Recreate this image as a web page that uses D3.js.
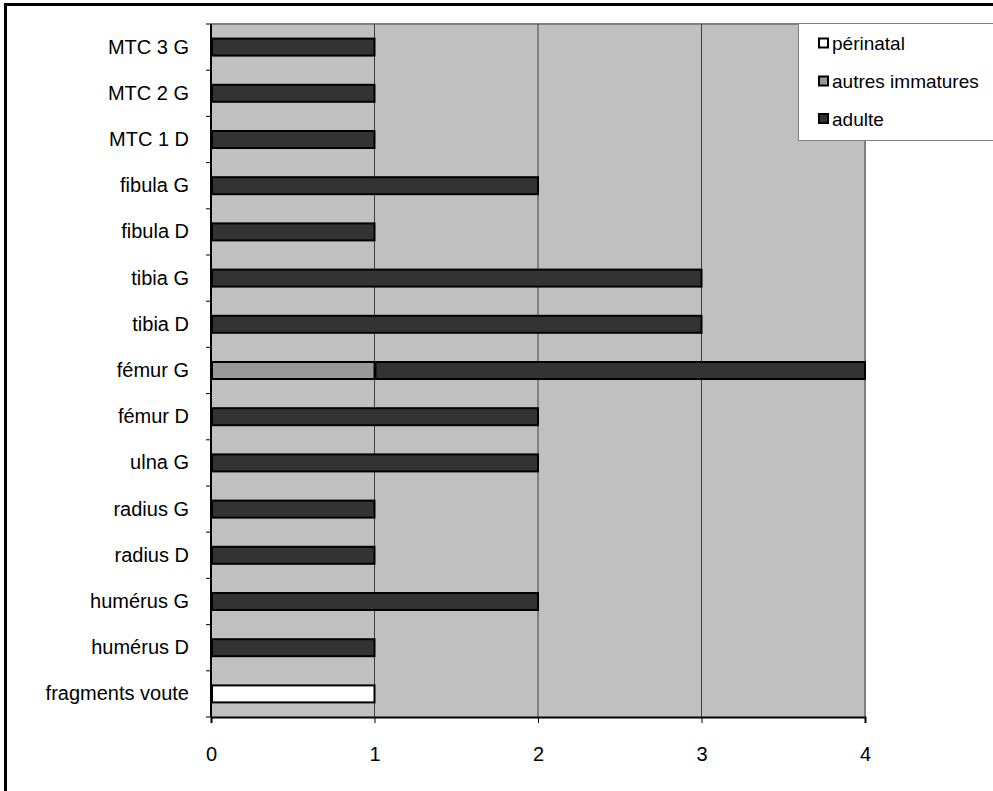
<!DOCTYPE html>
<html><head><meta charset="utf-8">
<script src="https://cdn.jsdelivr.net/npm/d3@7"></script>
<style>body{margin:0;background:#fff}svg{display:block;font-family:Arial,"Liberation Sans",sans-serif}</style>
</head><body><svg id="c" width="993" height="791"></svg>
<script>
const categories = ["fragments voute","humérus D","humérus G","radius D","radius G","ulna G","fémur D","fémur G","tibia D","tibia G","fibula D","fibula G","MTC 1 D","MTC 2 G","MTC 3 G"];
const perinatal = [1,0,0,0,0,0,0,0,0,0,0,0,0,0,0];
const autresImmatures = [0,0,0,0,0,0,0,1,0,0,0,0,0,0,0];
const adulte = [0,1,2,1,1,2,2,3,3,3,1,2,1,1,1];
const seriesNames = ["périnatal","autres immatures","adulte"];
const seriesColors = ["#ffffff","#999999","#333333"];
const xTicks = [0,1,2,3,4];

const FONT = "Arial,'Liberation Sans',sans-serif";
const svg = d3.select("#c");
const L = 211, R = 865, T = 24, B = 717;
// outer frame
svg.append("rect").attr("x",5.5).attr("y",4.5).attr("width",1100).attr("height",1000)
  .attr("fill","#fff").attr("stroke","#000").attr("stroke-width",3);

const x = d3.scaleLinear().domain([0,4]).range([L,R]);
const y = d3.scaleBand().domain(categories.slice().reverse()).range([T,B]);

svg.append("rect").attr("x",L).attr("y",T).attr("width",R-L).attr("height",B-T).attr("fill","#c0c0c0");
// top and right border
svg.append("line").attr("x1",L).attr("x2",R+1).attr("y1",T).attr("y2",T).attr("stroke","#808080").attr("stroke-width",2);
svg.append("line").attr("x1",R).attr("x2",R).attr("y1",T).attr("y2",B).attr("stroke","#808080").attr("stroke-width",2);
// gridlines
svg.selectAll(".grid").data(xTicks.filter(d=>d>0&&d<4)).enter().append("line")
  .attr("x1",d=>x(d)).attr("x2",d=>x(d)).attr("y1",T).attr("y2",B)
  .attr("stroke","#404040").attr("stroke-width",1);

const data = categories.map((c,i)=>({c, vals:[perinatal[i],autresImmatures[i],adulte[i]]}));
const stacked = d3.stack().keys([0,1,2]).value((d,k)=>d.vals[k])(data);
const bh = 17;
stacked.forEach((layer,k)=>{
  svg.selectAll(".bar"+k).data(layer.filter(d=>d[1]-d[0]>0)).enter().append("rect")
    .attr("x",d=>x(d[0])+1).attr("width",d=>x(d[1])-x(d[0])-1)
    .attr("y",d=>y(d.data.c)+y.bandwidth()/2-bh/2).attr("height",bh)
    .attr("fill",seriesColors[k]).attr("stroke","#000").attr("stroke-width",2);
});

// y axis
const yAxis = svg.append("g").attr("transform",`translate(${L},0)`)
  .call(d3.axisLeft(y).tickSize(0).tickPadding(22));
yAxis.select(".domain").remove();
yAxis.selectAll("text").attr("font-size",20).attr("fill","#000").attr("font-family",FONT);
const bounds = d3.range(categories.length+1).map(i=>T+i*y.step());
svg.selectAll(".yt").data(bounds).enter().append("line")
  .attr("x1",L-5).attr("x2",L).attr("y1",d=>d).attr("y2",d=>d).attr("stroke","#000");
svg.append("line").attr("x1",L).attr("x2",L).attr("y1",T).attr("y2",B).attr("stroke","#000").attr("stroke-width",2);

// x axis
const xAxis = svg.append("g").attr("transform",`translate(0,${B})`)
  .call(d3.axisBottom(x).tickValues(xTicks).tickFormat(d3.format("d")).tickSize(6).tickPadding(24));
xAxis.select(".domain").attr("stroke","#000").attr("stroke-width",2);
xAxis.selectAll("text").attr("font-size",20).attr("fill","#000").attr("font-family",FONT);

// legend
const lg = svg.append("g");
lg.append("rect").attr("x",798.5).attr("y",23.5).attr("width",200).attr("height",117)
  .attr("fill","#fff").attr("stroke","#808080").attr("stroke-width",1);
const rowY = [43, 81, 118.5];
seriesNames.forEach((n,i)=>{
  const cy = rowY[i];
  lg.append("rect").attr("x",819).attr("y",cy-4.5).attr("width",9).attr("height",9)
    .attr("fill",seriesColors[i]).attr("stroke","#000").attr("stroke-width",2);
  lg.append("text").attr("x",832).attr("y",cy+7).attr("font-size",19).attr("font-family",FONT).text(n);
});
</script></body></html>
